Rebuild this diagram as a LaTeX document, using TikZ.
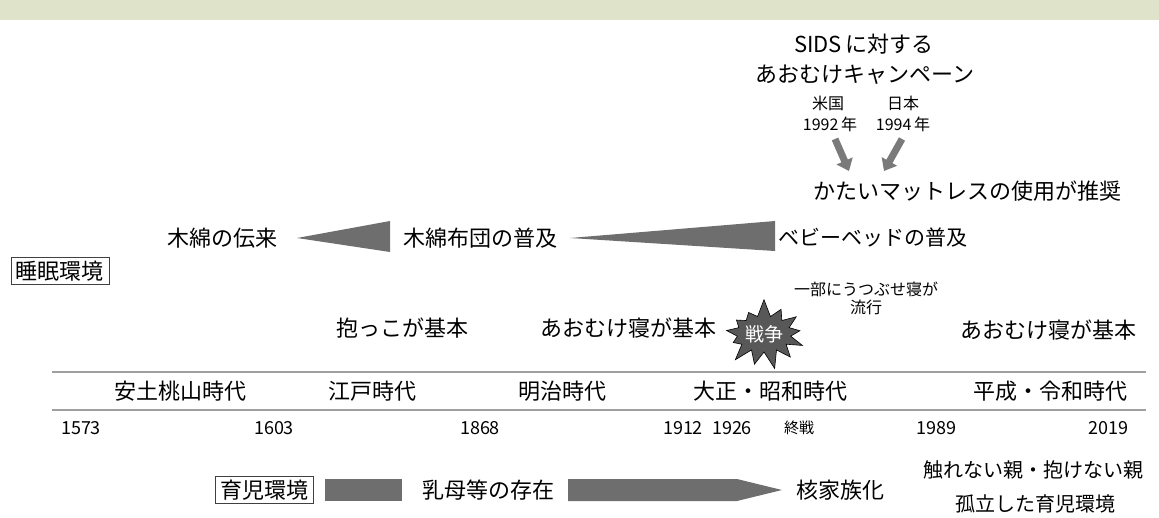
\documentclass[tikz,border=0pt]{standalone}
\usepackage{fontspec}
\setmainfont{Noto Sans CJK JP}
\usetikzlibrary{shapes.symbols,arrows.meta}
\definecolor{band}{HTML}{DEE3C9}
\definecolor{shape}{HTML}{6E6E6E}
\definecolor{rule}{HTML}{A0A0A0}
\definecolor{arrowgray}{HTML}{7A7A7A}
\tikzset{
  big/.style={inner sep=0pt, font=\fontsize{22}{26}\selectfont},
  mid/.style={inner sep=0pt, font=\fontsize{20}{24}\selectfont},
  small/.style={inner sep=0pt, font=\fontsize{16}{19}\selectfont},
  period/.style={inner sep=0pt, font=\fontsize{22}{26}\selectfont},
  year/.style={inner sep=0pt, font=\fontsize{18}{20}\selectfont},
  labelbox/.style={draw=black!75, line width=0.9pt, inner xsep=5pt, inner ysep=3pt, font=\fontsize{22}{26}\selectfont},
  wedge/.style={fill=shape, draw=none},
  campaign/.style={draw=arrowgray, line width=7pt, -{Triangle[length=11pt,width=17pt]}},
  timeline/.style={draw=rule, line width=1.3pt}
}
\begin{document}
\begin{tikzpicture}[x=1pt,y=-1pt]
\useasboundingbox (0,0) rectangle (1159,517);
\fill[band] (0,0) rectangle (1159,20);

% campaign
\node[big] (sids) at (864,44) {SIDS\,に対する};
\node[big] (camp) at (865,75) {あおむけキャンペーン};
\node[small] (us) at (828,103) {米国};
\node[small] (usy) at (830,124) {1992\,年};
\node[small] (jp) at (903,103) {日本};
\node[small] (jpy) at (903,124) {1994\,年};
\node[big] (hard) at (967,191) {かたいマットレスの使用が推奨};
\coordinate (a1s) at (835,139);
\coordinate (a1e) at (849,171);
\coordinate (a2s) at (902,139);
\coordinate (a2e) at (884,171);
\draw[campaign] (a1s) -- (a1e);
\draw[campaign] (a2s) -- (a2e);

% sleeping environment
\node[labelbox] (sleep) at (60,271) {睡眠環境};
\node[big] (cotton) at (222,238) {木綿の伝来};
\node[big] (futon) at (480,238) {木綿布団の普及};
\node[inner sep=0pt, font=\fontsize{21}{25}\selectfont] (baby) at (873,238) {ベビーベッドの普及};
\fill[wedge] (297,238) -- (390,221) -- (390,252) -- cycle;
\fill[wedge] (570,238) -- (775,221) -- (775,251) -- cycle;

\node[big] (dakko) at (402,328) {抱っこが基本};
\node[big] (aomuke1) at (628,328) {あおむけ寝が基本};
\node[inner sep=0pt, align=center, font=\fontsize{16}{18}\selectfont] (utsu) at (866,298) {一部にうつぶせ寝が\\流行};
\node[big] (aomuke2) at (1048,330) {あおむけ寝が基本};
\node[starburst, starburst points=13, starburst point height=18pt, minimum width=80pt, minimum height=72pt, fill=shape!80!black, draw=black, line width=0.6pt, inner sep=0pt, text=white, font=\fontsize{19}{22}\selectfont, random starburst=7] (war) at (764,334) {戦争};

% timeline
\coordinate (l1a) at (52,372);
\coordinate (l1b) at (1146,372);
\coordinate (l2a) at (52,410);
\coordinate (l2b) at (1146,410);
\draw[timeline] (l1a) -- (l1b);
\draw[timeline] (l2a) -- (l2b);
\node[period] (p1) at (180,391) {安土桃山時代};
\node[period] (p2) at (372,391) {江戸時代};
\node[period] (p3) at (562,391) {明治時代};
\node[period] (p4) at (770,391) {大正・昭和時代};
\node[period] (p5) at (1050,391) {平成・令和時代};
\node[year] (y1) at (81,428) {1573};
\node[year] (y2) at (274,428) {1603};
\node[year] (y3) at (480,428) {1868};
\node[year] (y4) at (683,428) {1912};
\node[year] (y5) at (732,428) {1926};
\node[year, font=\fontsize{15}{17}\selectfont] (y6) at (799,428) {終戦};
\node[year] (y7) at (936,428) {1989};
\node[year] (y8) at (1108,428) {2019};

% childcare environment
\node[labelbox] (child) at (264,490) {育児環境};
\fill[wedge] (325,479) rectangle (402,501);
\node[big] (nanny) at (488,490) {乳母等の存在};
\fill[wedge] (568,479) -- (737,479) -- (782,490) -- (737,501) -- (568,501) -- cycle;
\node[big] (nuclear) at (840,490) {核家族化};
\node[mid] (touch) at (1033,470) {触れない親・抱けない親};
\node[mid] (isol) at (1035,504) {孤立した育児環境};
\end{tikzpicture}
\end{document}
